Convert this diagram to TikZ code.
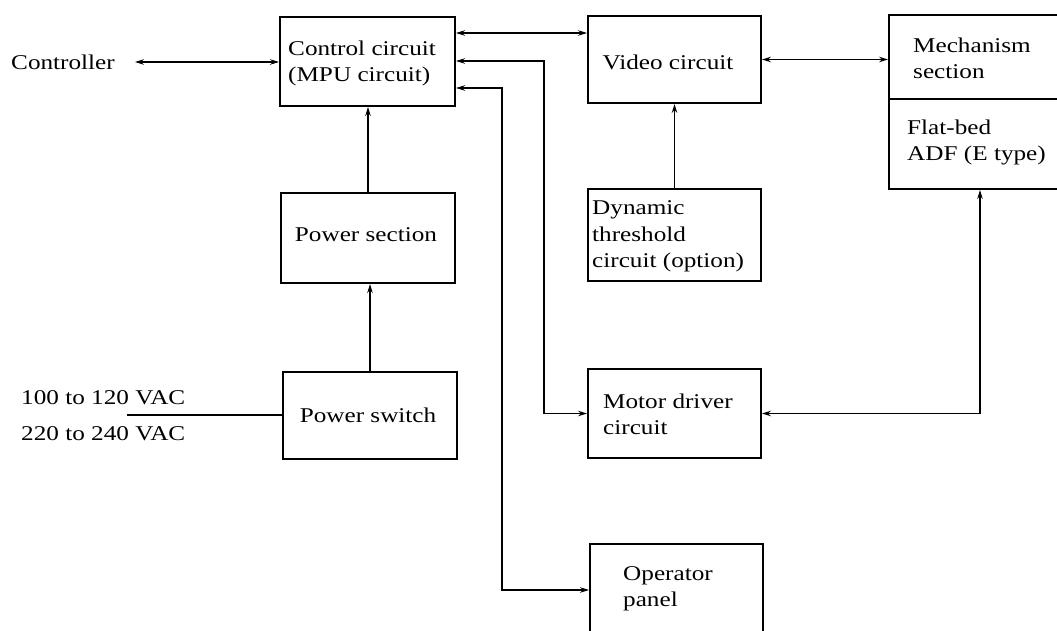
\documentclass[tikz,border=0pt]{standalone}
\usepackage{fontspec}
\setmainfont{Liberation Serif}[FakeStretch=1.2]
\usetikzlibrary{arrows.meta}
\begin{document}
\begin{tikzpicture}[x=1pt,y=-1pt,
  box/.style={draw, line width=2pt, rectangle, inner sep=0pt, anchor=north west},
  txt/.style={inner sep=0pt, align=left, font=\fontsize{21}{26.5}\selectfont},
  conn/.style={line width=1.1pt, >={Stealth[length=9pt,width=5.5pt]}},
  divline/.style={line width=1.5pt}]
\useasboundingbox (0,0) rectangle (1057,631);
\clip (0,0) rectangle (1057,631);
% boxes
\node[box, minimum width=175pt, minimum height=89pt] (ctrl) at (279,16) {};
\node[box, minimum width=173pt, minimum height=87pt] (video) at (587,15) {};
\node[box, minimum width=182pt, minimum height=174pt] (mech) at (888,14) {};
\node[box, minimum width=173pt, minimum height=92pt] (dyn) at (587,188) {};
\node[box, minimum width=174pt, minimum height=90pt] (psec) at (280,192) {};
\node[box, minimum width=174pt, minimum height=87pt] (psw) at (282,371) {};
\node[box, minimum width=173pt, minimum height=89pt] (motor) at (587,368) {};
\node[box, minimum width=173pt, minimum height=92pt] (oper) at (589,543) {};
\draw[divline] ([yshift=-85pt]mech.north west) -- ([yshift=-85pt]mech.north east);
% texts
\node[txt, anchor=west] (ctrlT) at (288,63.5) {Control circuit\\(MPU circuit)};
\node[txt] (videoT) at (668,62) {Video circuit};
\node[txt, anchor=west] (mechT1) at (913,58.5) {Mechanism\\section};
\node[txt, anchor=west] (mechT2) at (907,142.5) {Flat-bed\\ADF (E type)};
\node[txt, anchor=west] (dynT) at (592,236.5) {Dynamic\\threshold\\circuit (option)};
\node[txt] (psecT) at (366,235) {Power section};
\node[txt] (pswT) at (368,415) {Power switch};
\node[txt, anchor=west] (motorT) at (603,414.5) {Motor driver\\circuit};
\node[txt, anchor=west] (operT) at (623,589) {Operator\\panel};
\node[txt] (contr) at (63,62) {Controller};
\node[txt, anchor=west] (vac1) at (21,398) {100 to 120 VAC};
\node[txt, anchor=west] (vac2) at (21,434) {220 to 240 VAC};
% connector points
\coordinate (cin) at ([xshift=20pt]contr.east);
\coordinate (cv) at ([yshift=-17pt]ctrl.north east);
\coordinate (cm) at ([yshift=-45pt]ctrl.north east);
\coordinate (co) at ([yshift=-72pt]ctrl.north east);
\coordinate (acin) at (127,415);
% connectors
\draw[conn,<->] (cin) -- (cin -| ctrl.west);
\draw[conn,<->] (cv) -- (cv -| video.west);
\draw[conn,<->] (cm) -| ([xshift=-43pt]motor.west) -- (motor.west);
\draw[conn,<->] (co) -| ([xshift=-87pt]oper.west) -- (oper.west);
\draw[conn,->] (psec.north) -- (psec.north |- ctrl.south);
\draw[conn,->] (psw.north) -- (psw.north |- psec.south);
\draw[conn] (acin) -- (acin -| psw.west);
\draw[conn,->] (dyn.north) -- (dyn.north |- video.south);
\draw[conn,<->] (video.east) -- (video.east -| mech.west);
\draw[conn,<->] (mech.south) |- (motor.east);
\end{tikzpicture}
\end{document}
